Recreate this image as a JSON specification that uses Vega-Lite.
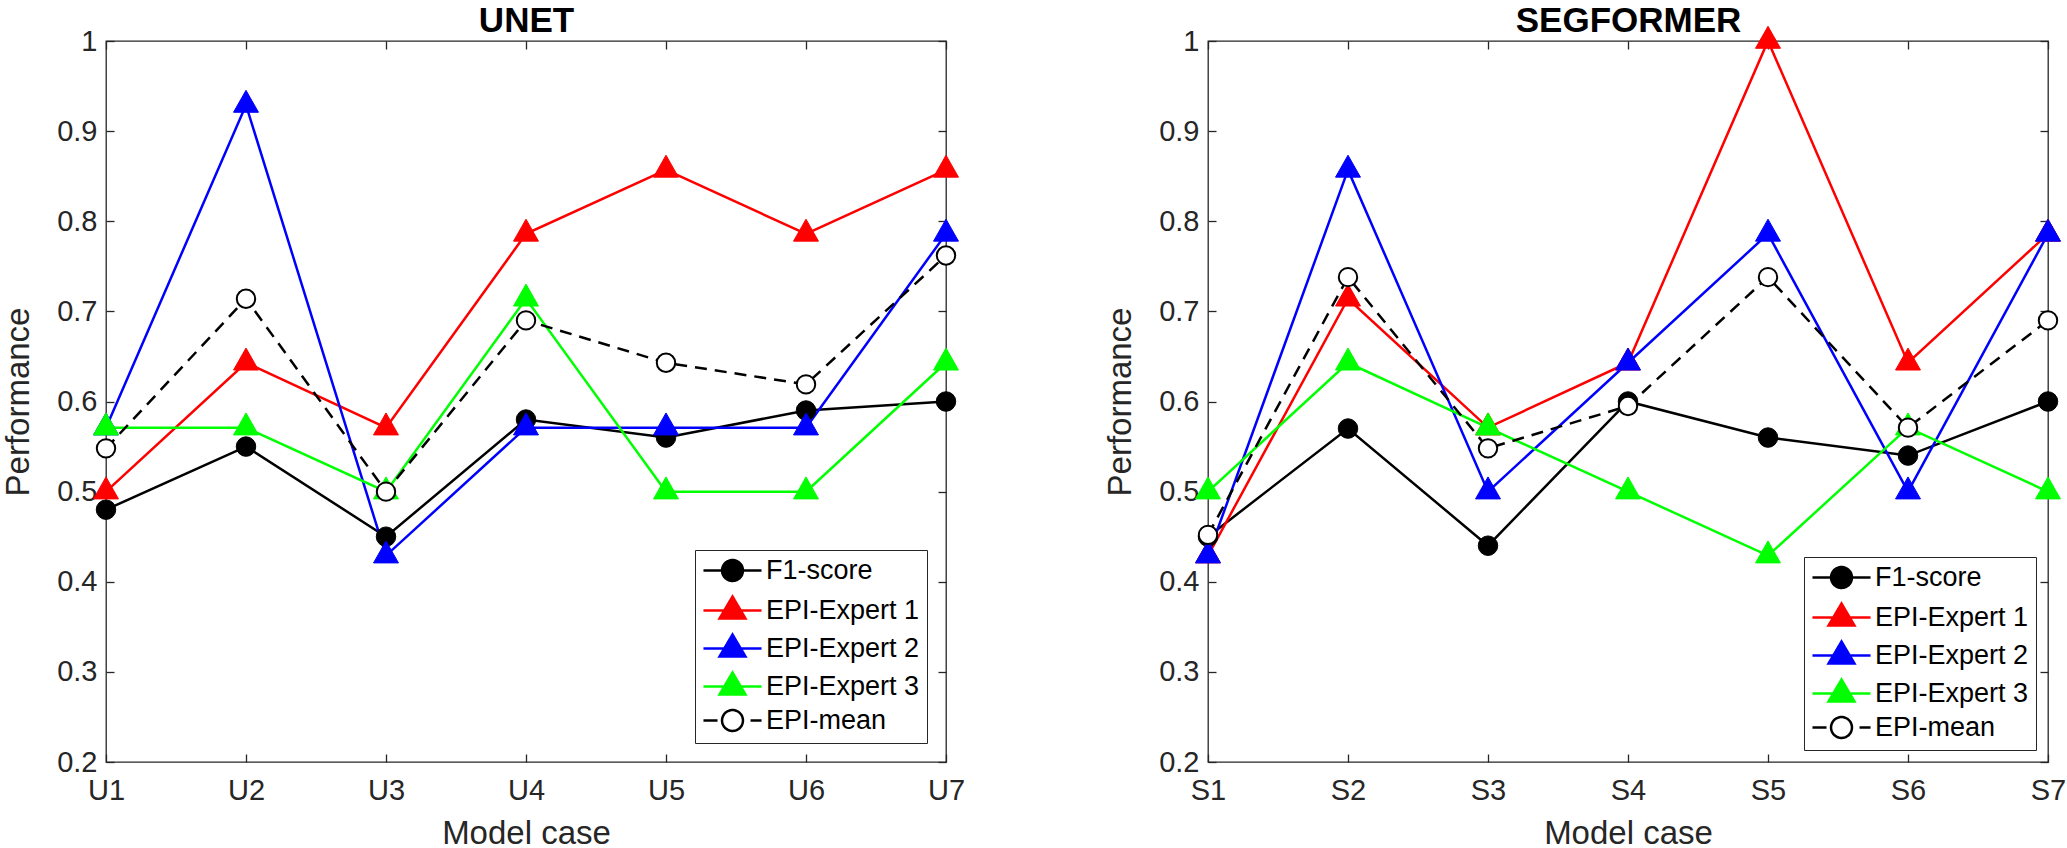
{
  "$schema": "https://vega.github.io/schema/vega-lite/v6.json",
  "background": "white",
  "padding": {"left": 2, "top": 2, "right": 0, "bottom": 0},
  "spacing": 138,
  "config": {
    "font": "Liberation Sans",
    "view": {"stroke": "#262626", "strokeWidth": 1.3},
    "axis": {
      "grid": false, "domain": false, "minExtent": 0,
      "labelFont": "Liberation Sans", "labelFontSize": 29, "labelColor": "#262626",
      "tickColor": "#262626", "tickWidth": 1.3, "tickSize": -8,
      "titleFont": "Liberation Sans", "titleFontSize": 33, "titleFontWeight": "normal", "titleColor": "#262626"
    },
    "legend": {"labelFont": "Liberation Sans"}
  },
  "datasets": {
    "unet": [
      {"case": "U1", "series": "F1-score", "value": 0.48},
      {"case": "U2", "series": "F1-score", "value": 0.55},
      {"case": "U3", "series": "F1-score", "value": 0.45},
      {"case": "U4", "series": "F1-score", "value": 0.58},
      {"case": "U5", "series": "F1-score", "value": 0.56},
      {"case": "U6", "series": "F1-score", "value": 0.59},
      {"case": "U7", "series": "F1-score", "value": 0.60},
      {"case": "U1", "series": "EPI-Expert 1", "value": 0.5},
      {"case": "U2", "series": "EPI-Expert 1", "value": 0.643},
      {"case": "U3", "series": "EPI-Expert 1", "value": 0.571},
      {"case": "U4", "series": "EPI-Expert 1", "value": 0.786},
      {"case": "U5", "series": "EPI-Expert 1", "value": 0.857},
      {"case": "U6", "series": "EPI-Expert 1", "value": 0.786},
      {"case": "U7", "series": "EPI-Expert 1", "value": 0.857},
      {"case": "U1", "series": "EPI-Expert 2", "value": 0.571},
      {"case": "U2", "series": "EPI-Expert 2", "value": 0.929},
      {"case": "U3", "series": "EPI-Expert 2", "value": 0.429},
      {"case": "U4", "series": "EPI-Expert 2", "value": 0.571},
      {"case": "U5", "series": "EPI-Expert 2", "value": 0.571},
      {"case": "U6", "series": "EPI-Expert 2", "value": 0.571},
      {"case": "U7", "series": "EPI-Expert 2", "value": 0.786},
      {"case": "U1", "series": "EPI-Expert 3", "value": 0.571},
      {"case": "U2", "series": "EPI-Expert 3", "value": 0.571},
      {"case": "U3", "series": "EPI-Expert 3", "value": 0.5},
      {"case": "U4", "series": "EPI-Expert 3", "value": 0.714},
      {"case": "U5", "series": "EPI-Expert 3", "value": 0.5},
      {"case": "U6", "series": "EPI-Expert 3", "value": 0.5},
      {"case": "U7", "series": "EPI-Expert 3", "value": 0.643},
      {"case": "U1", "series": "EPI-mean", "value": 0.548},
      {"case": "U2", "series": "EPI-mean", "value": 0.714},
      {"case": "U3", "series": "EPI-mean", "value": 0.5},
      {"case": "U4", "series": "EPI-mean", "value": 0.690},
      {"case": "U5", "series": "EPI-mean", "value": 0.643},
      {"case": "U6", "series": "EPI-mean", "value": 0.619},
      {"case": "U7", "series": "EPI-mean", "value": 0.762}
    ],
    "seg": [
      {"case": "S1", "series": "F1-score", "value": 0.45},
      {"case": "S2", "series": "F1-score", "value": 0.57},
      {"case": "S3", "series": "F1-score", "value": 0.44},
      {"case": "S4", "series": "F1-score", "value": 0.60},
      {"case": "S5", "series": "F1-score", "value": 0.56},
      {"case": "S6", "series": "F1-score", "value": 0.54},
      {"case": "S7", "series": "F1-score", "value": 0.60},
      {"case": "S1", "series": "EPI-Expert 1", "value": 0.429},
      {"case": "S2", "series": "EPI-Expert 1", "value": 0.714},
      {"case": "S3", "series": "EPI-Expert 1", "value": 0.571},
      {"case": "S4", "series": "EPI-Expert 1", "value": 0.643},
      {"case": "S5", "series": "EPI-Expert 1", "value": 1.0},
      {"case": "S6", "series": "EPI-Expert 1", "value": 0.643},
      {"case": "S7", "series": "EPI-Expert 1", "value": 0.786},
      {"case": "S1", "series": "EPI-Expert 2", "value": 0.429},
      {"case": "S2", "series": "EPI-Expert 2", "value": 0.857},
      {"case": "S3", "series": "EPI-Expert 2", "value": 0.5},
      {"case": "S4", "series": "EPI-Expert 2", "value": 0.643},
      {"case": "S5", "series": "EPI-Expert 2", "value": 0.786},
      {"case": "S6", "series": "EPI-Expert 2", "value": 0.5},
      {"case": "S7", "series": "EPI-Expert 2", "value": 0.786},
      {"case": "S1", "series": "EPI-Expert 3", "value": 0.5},
      {"case": "S2", "series": "EPI-Expert 3", "value": 0.643},
      {"case": "S3", "series": "EPI-Expert 3", "value": 0.571},
      {"case": "S4", "series": "EPI-Expert 3", "value": 0.5},
      {"case": "S5", "series": "EPI-Expert 3", "value": 0.429},
      {"case": "S6", "series": "EPI-Expert 3", "value": 0.571},
      {"case": "S7", "series": "EPI-Expert 3", "value": 0.5},
      {"case": "S1", "series": "EPI-mean", "value": 0.452},
      {"case": "S2", "series": "EPI-mean", "value": 0.738},
      {"case": "S3", "series": "EPI-mean", "value": 0.548},
      {"case": "S4", "series": "EPI-mean", "value": 0.595},
      {"case": "S5", "series": "EPI-mean", "value": 0.738},
      {"case": "S6", "series": "EPI-mean", "value": 0.571},
      {"case": "S7", "series": "EPI-mean", "value": 0.690}
    ]
  },
  "resolve": {
    "scale": {"fill": "independent", "stroke": "independent", "shape": "independent"},
    "legend": {"fill": "independent", "stroke": "independent", "shape": "independent"}
  },
  "hconcat": [
    {
      "data": {"name": "unet"},
      "width": 840,
      "height": 721,
      "layer": [
        {
          "encoding": {
            "x": {"field": "case", "type": "ordinal", "scale": {"type": "point", "padding": 0},
                  "axis": {"orient": "bottom", "labelAngle": 0, "labelPadding": 22, "title": "Model case", "titlePadding": 12}},
            "y": {"field": "value", "type": "quantitative", "scale": {"domain": [0.2, 1], "nice": false, "zero": false},
                  "axis": {"orient": "left", "values": [0.2, 0.3, 0.4, 0.5, 0.6, 0.7, 0.8, 0.9, 1], "format": "~g", "labelPadding": 17, "title": "Performance", "titlePadding": 21}}
          },
          "layer": [
            {
              "transform": [{"filter": "datum.series !== 'EPI-mean'"}],
              "mark": {"type": "line", "strokeWidth": 2.5},
              "encoding": {
                "stroke": {"field": "series", "type": "nominal",
                  "scale": {"domain": ["F1-score", "EPI-Expert 1", "EPI-Expert 2", "EPI-Expert 3", "EPI-mean"], "range": ["#000000", "#ff0000", "#0000ff", "#00ff00", "#000000"]},
                  "legend": {"title": null, "orient": "bottom-right", "offset": 19, "padding": 7, "rowPadding": 5, "strokeColor": "#262626", "fillColor": "white", "labelFontSize": 27, "labelColor": "#000000", "symbolSize": 484, "symbolStrokeWidth": 2.5, "symbolOffset": 17, "labelOffset": 20, "symbolOpacity": 1, "symbolDash": [1, 0], "labelLimit": 0}}
              }
            },
            {
              "transform": [{"filter": "datum.series === 'EPI-mean'"}],
              "mark": {"type": "line", "strokeWidth": 2.5, "strokeDash": [12, 8], "color": "#000000"},
              "encoding": {}
            },
            {
              "transform": [{"filter": "datum.series === 'F1-score'"}],
              "mark": {"type": "point", "filled": true, "shape": "circle", "size": 380, "strokeWidth": 1, "opacity": 1},
              "encoding": {
                "fill": {"field": "series", "type": "nominal",
                  "scale": {"domain": ["F1-score", "EPI-Expert 1", "EPI-Expert 2", "EPI-Expert 3", "EPI-mean"], "range": ["#000000", "#ff0000", "#0000ff", "#00ff00", "#ffffff"]},
                  "legend": {"title": null, "orient": "bottom-right", "offset": 19, "padding": 7, "rowPadding": 5, "strokeColor": "#262626", "fillColor": "white", "labelFontSize": 27, "labelColor": "#000000", "symbolSize": 484, "symbolStrokeWidth": 2.5, "symbolOffset": 17, "labelOffset": 20, "symbolOpacity": 1, "symbolDash": [1, 0], "labelLimit": 0}},
                "stroke": {"field": "series", "type": "nominal",
                  "scale": {"domain": ["F1-score", "EPI-Expert 1", "EPI-Expert 2", "EPI-Expert 3", "EPI-mean"], "range": ["#000000", "#ff0000", "#0000ff", "#00ff00", "#000000"]}}
              }
            },
            {
              "transform": [{"filter": "datum.series !== 'F1-score' && datum.series !== 'EPI-mean'"}],
              "mark": {"type": "point", "filled": true, "shape": "M0,-1.13L0.96,0.56L-0.96,0.56Z", "size": 676, "strokeWidth": 1, "opacity": 1},
              "encoding": {
                "fill": {"field": "series", "type": "nominal",
                  "scale": {"domain": ["F1-score", "EPI-Expert 1", "EPI-Expert 2", "EPI-Expert 3", "EPI-mean"], "range": ["#000000", "#ff0000", "#0000ff", "#00ff00", "#ffffff"]}},
                "stroke": {"field": "series", "type": "nominal",
                  "scale": {"domain": ["F1-score", "EPI-Expert 1", "EPI-Expert 2", "EPI-Expert 3", "EPI-mean"], "range": ["#000000", "#ff0000", "#0000ff", "#00ff00", "#000000"]}}
              }
            },
            {
              "transform": [{"filter": "datum.series === 'EPI-mean'"}],
              "mark": {"type": "point", "filled": true, "shape": "circle", "size": 340, "strokeWidth": 2, "opacity": 1},
              "encoding": {
                "fill": {"field": "series", "type": "nominal",
                  "scale": {"domain": ["F1-score", "EPI-Expert 1", "EPI-Expert 2", "EPI-Expert 3", "EPI-mean"], "range": ["#000000", "#ff0000", "#0000ff", "#00ff00", "#ffffff"]}},
                "stroke": {"field": "series", "type": "nominal",
                  "scale": {"domain": ["F1-score", "EPI-Expert 1", "EPI-Expert 2", "EPI-Expert 3", "EPI-mean"], "range": ["#000000", "#ff0000", "#0000ff", "#00ff00", "#000000"]}}
              }
            }
          ]
        },
        {
          "transform": [{"filter": "false"}],
          "mark": {"type": "point", "filled": true, "size": 484, "strokeWidth": 2.5, "opacity": 1},
          "encoding": {
            "x": {"field": "case", "type": "ordinal", "scale": {"type": "point", "padding": 0},
                  "axis": {"orient": "top", "labels": false, "title": "UNET", "titleFontSize": 35, "titleFontWeight": "bold", "titleColor": "#000000", "titleBaseline": "alphabetic", "titlePadding": 9}},
            "y": {"field": "value", "type": "quantitative", "scale": {"domain": [0.2, 1], "nice": false, "zero": false},
                  "axis": {"orient": "right", "values": [0.2, 0.3, 0.4, 0.5, 0.6, 0.7, 0.8, 0.9, 1], "labels": false, "title": null}},
            "shape": {"field": "series", "type": "nominal",
              "scale": {"domain": ["F1-score", "EPI-Expert 1", "EPI-Expert 2", "EPI-Expert 3", "EPI-mean"],
                        "range": ["M-2.64,0H2.64M0.95,0A0.95,0.95,0,1,1,-0.95,0A0.95,0.95,0,1,1,0.95,0Z", "M-2.64,0H2.64M0,-1.27L1.18,0.73L-1.18,0.73Z", "M-2.64,0H2.64M0,-1.27L1.18,0.73L-1.18,0.73Z", "M-2.64,0H2.64M0,-1.27L1.18,0.73L-1.18,0.73Z", "M-2.64,0H-1.36M1.64,0H2.64M0.95,0A0.95,0.95,0,1,1,-0.95,0A0.95,0.95,0,1,1,0.95,0Z"]},
              "legend": {"title": null, "orient": "bottom-right", "offset": 19, "padding": 7, "rowPadding": 5, "strokeColor": "#262626", "fillColor": "white", "labelFontSize": 27, "labelColor": "#000000", "symbolSize": 484, "symbolStrokeWidth": 2.5, "symbolOffset": 17, "labelOffset": 20, "symbolOpacity": 1, "symbolDash": [1, 0], "labelLimit": 0}},
            "fill": {"field": "series", "type": "nominal",
              "scale": {"domain": ["F1-score", "EPI-Expert 1", "EPI-Expert 2", "EPI-Expert 3", "EPI-mean"], "range": ["#000000", "#ff0000", "#0000ff", "#00ff00", "#ffffff"]}},
            "stroke": {"field": "series", "type": "nominal",
              "scale": {"domain": ["F1-score", "EPI-Expert 1", "EPI-Expert 2", "EPI-Expert 3", "EPI-mean"], "range": ["#000000", "#ff0000", "#0000ff", "#00ff00", "#000000"]}}
          }
        }
      ],
      "resolve": {"axis": {"x": "independent", "y": "independent"}}
    },
    {
      "data": {"name": "seg"},
      "width": 840,
      "height": 721,
      "layer": [
        {
          "encoding": {
            "x": {"field": "case", "type": "ordinal", "scale": {"type": "point", "padding": 0},
                  "axis": {"orient": "bottom", "labelAngle": 0, "labelPadding": 22, "title": "Model case", "titlePadding": 12}},
            "y": {"field": "value", "type": "quantitative", "scale": {"domain": [0.2, 1], "nice": false, "zero": false},
                  "axis": {"orient": "left", "values": [0.2, 0.3, 0.4, 0.5, 0.6, 0.7, 0.8, 0.9, 1], "format": "~g", "labelPadding": 17, "title": "Performance", "titlePadding": 21}}
          },
          "layer": [
            {
              "transform": [{"filter": "datum.series !== 'EPI-mean'"}],
              "mark": {"type": "line", "strokeWidth": 2.5},
              "encoding": {
                "stroke": {"field": "series", "type": "nominal",
                  "scale": {"domain": ["F1-score", "EPI-Expert 1", "EPI-Expert 2", "EPI-Expert 3", "EPI-mean"], "range": ["#000000", "#ff0000", "#0000ff", "#00ff00", "#000000"]},
                  "legend": {"title": null, "orient": "bottom-right", "offset": 12, "padding": 7, "rowPadding": 5, "strokeColor": "#262626", "fillColor": "white", "labelFontSize": 27, "labelColor": "#000000", "symbolSize": 484, "symbolStrokeWidth": 2.5, "symbolOffset": 17, "labelOffset": 20, "symbolOpacity": 1, "symbolDash": [1, 0], "labelLimit": 0}}
              }
            },
            {
              "transform": [{"filter": "datum.series === 'EPI-mean'"}],
              "mark": {"type": "line", "strokeWidth": 2.5, "strokeDash": [12, 8], "color": "#000000"},
              "encoding": {}
            },
            {
              "transform": [{"filter": "datum.series === 'F1-score'"}],
              "mark": {"type": "point", "filled": true, "shape": "circle", "size": 380, "strokeWidth": 1, "opacity": 1},
              "encoding": {
                "fill": {"field": "series", "type": "nominal",
                  "scale": {"domain": ["F1-score", "EPI-Expert 1", "EPI-Expert 2", "EPI-Expert 3", "EPI-mean"], "range": ["#000000", "#ff0000", "#0000ff", "#00ff00", "#ffffff"]},
                  "legend": {"title": null, "orient": "bottom-right", "offset": 12, "padding": 7, "rowPadding": 5, "strokeColor": "#262626", "fillColor": "white", "labelFontSize": 27, "labelColor": "#000000", "symbolSize": 484, "symbolStrokeWidth": 2.5, "symbolOffset": 17, "labelOffset": 20, "symbolOpacity": 1, "symbolDash": [1, 0], "labelLimit": 0}},
                "stroke": {"field": "series", "type": "nominal",
                  "scale": {"domain": ["F1-score", "EPI-Expert 1", "EPI-Expert 2", "EPI-Expert 3", "EPI-mean"], "range": ["#000000", "#ff0000", "#0000ff", "#00ff00", "#000000"]}}
              }
            },
            {
              "transform": [{"filter": "datum.series !== 'F1-score' && datum.series !== 'EPI-mean'"}],
              "mark": {"type": "point", "filled": true, "shape": "M0,-1.13L0.96,0.56L-0.96,0.56Z", "size": 676, "strokeWidth": 1, "opacity": 1},
              "encoding": {
                "fill": {"field": "series", "type": "nominal",
                  "scale": {"domain": ["F1-score", "EPI-Expert 1", "EPI-Expert 2", "EPI-Expert 3", "EPI-mean"], "range": ["#000000", "#ff0000", "#0000ff", "#00ff00", "#ffffff"]}},
                "stroke": {"field": "series", "type": "nominal",
                  "scale": {"domain": ["F1-score", "EPI-Expert 1", "EPI-Expert 2", "EPI-Expert 3", "EPI-mean"], "range": ["#000000", "#ff0000", "#0000ff", "#00ff00", "#000000"]}}
              }
            },
            {
              "transform": [{"filter": "datum.series === 'EPI-mean'"}],
              "mark": {"type": "point", "filled": true, "shape": "circle", "size": 340, "strokeWidth": 2, "opacity": 1},
              "encoding": {
                "fill": {"field": "series", "type": "nominal",
                  "scale": {"domain": ["F1-score", "EPI-Expert 1", "EPI-Expert 2", "EPI-Expert 3", "EPI-mean"], "range": ["#000000", "#ff0000", "#0000ff", "#00ff00", "#ffffff"]}},
                "stroke": {"field": "series", "type": "nominal",
                  "scale": {"domain": ["F1-score", "EPI-Expert 1", "EPI-Expert 2", "EPI-Expert 3", "EPI-mean"], "range": ["#000000", "#ff0000", "#0000ff", "#00ff00", "#000000"]}}
              }
            }
          ]
        },
        {
          "transform": [{"filter": "false"}],
          "mark": {"type": "point", "filled": true, "size": 484, "strokeWidth": 2.5, "opacity": 1},
          "encoding": {
            "x": {"field": "case", "type": "ordinal", "scale": {"type": "point", "padding": 0},
                  "axis": {"orient": "top", "labels": false, "title": "SEGFORMER", "titleFontSize": 35, "titleFontWeight": "bold", "titleColor": "#000000", "titleBaseline": "alphabetic", "titlePadding": 9}},
            "y": {"field": "value", "type": "quantitative", "scale": {"domain": [0.2, 1], "nice": false, "zero": false},
                  "axis": {"orient": "right", "values": [0.2, 0.3, 0.4, 0.5, 0.6, 0.7, 0.8, 0.9, 1], "labels": false, "title": null}},
            "shape": {"field": "series", "type": "nominal",
              "scale": {"domain": ["F1-score", "EPI-Expert 1", "EPI-Expert 2", "EPI-Expert 3", "EPI-mean"],
                        "range": ["M-2.64,0H2.64M0.95,0A0.95,0.95,0,1,1,-0.95,0A0.95,0.95,0,1,1,0.95,0Z", "M-2.64,0H2.64M0,-1.27L1.18,0.73L-1.18,0.73Z", "M-2.64,0H2.64M0,-1.27L1.18,0.73L-1.18,0.73Z", "M-2.64,0H2.64M0,-1.27L1.18,0.73L-1.18,0.73Z", "M-2.64,0H-1.36M1.64,0H2.64M0.95,0A0.95,0.95,0,1,1,-0.95,0A0.95,0.95,0,1,1,0.95,0Z"]},
              "legend": {"title": null, "orient": "bottom-right", "offset": 12, "padding": 7, "rowPadding": 5, "strokeColor": "#262626", "fillColor": "white", "labelFontSize": 27, "labelColor": "#000000", "symbolSize": 484, "symbolStrokeWidth": 2.5, "symbolOffset": 17, "labelOffset": 20, "symbolOpacity": 1, "symbolDash": [1, 0], "labelLimit": 0}},
            "fill": {"field": "series", "type": "nominal",
              "scale": {"domain": ["F1-score", "EPI-Expert 1", "EPI-Expert 2", "EPI-Expert 3", "EPI-mean"], "range": ["#000000", "#ff0000", "#0000ff", "#00ff00", "#ffffff"]}},
            "stroke": {"field": "series", "type": "nominal",
              "scale": {"domain": ["F1-score", "EPI-Expert 1", "EPI-Expert 2", "EPI-Expert 3", "EPI-mean"], "range": ["#000000", "#ff0000", "#0000ff", "#00ff00", "#000000"]}}
          }
        }
      ],
      "resolve": {"axis": {"x": "independent", "y": "independent"}}
    }
  ]
}
